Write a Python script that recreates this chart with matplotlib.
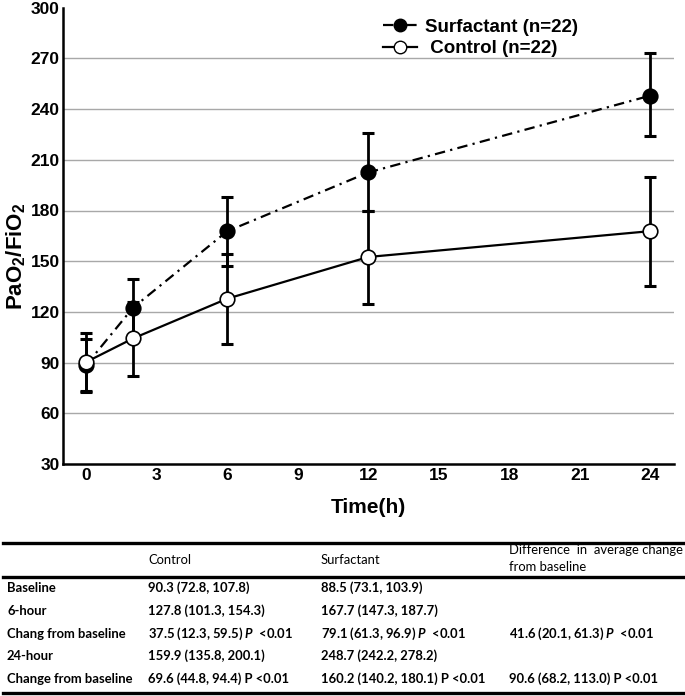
import matplotlib
matplotlib.use("Agg")
import matplotlib.pyplot as plt
from matplotlib.lines import Line2D

plt.rcParams['mathtext.fontset'] = 'custom'
plt.rcParams['mathtext.rm'] = 'Liberation Sans:bold'
plt.rcParams['mathtext.it'] = 'Lato:italic:bold'
plt.rcParams['mathtext.bf'] = 'Liberation Sans:bold'
plt.rcParams['lines.scale_dashes'] = False

# ---------------- data ----------------
times = [0, 2, 6, 12, 24]
surf = [88.5, 122.5, 167.7, 202.5, 248.0]
surf_lo = [73.1, 105.5, 147.3, 180.0, 224.0]
surf_hi = [103.9, 139.5, 187.7, 226.0, 273.0]
ctrl = [90.3, 104.3, 127.8, 152.5, 167.8]
ctrl_lo = [72.8, 82.0, 101.3, 124.5, 135.5]
ctrl_hi = [107.8, 126.0, 154.3, 180.0, 199.8]

xticks = [0, 3, 6, 9, 12, 15, 18, 21, 24]
yticks = [30, 60, 90, 120, 150, 180, 210, 240, 270, 300]

surf_label = "Surfactant (n=22)"
ctrl_label = " Control (n=22)"

table_header = ["", "Control", "Surfactant",
                "Difference  in  average change\nfrom baseline"]
row_labels = ["Baseline", "6-hour", "Chang from baseline", "24-hour", "Change from baseline"]
col_control = ["90.3 (72.8, 107.8)", "127.8 (101.3, 154.3)",
               r"37.5 (12.3, 59.5) $\mathit{P}$  <0.01",
               "159.9 (135.8, 200.1)", "69.6 (44.8, 94.4) P <0.01"]
col_surf = ["88.5 (73.1, 103.9)", "167.7 (147.3, 187.7)",
            r"79.1 (61.3, 96.9) $\mathit{P}$  <0.01",
            "248.7 (242.2, 278.2)", "160.2 (140.2, 180.1) P <0.01"]
col_diff = ["", "", r"41.6 (20.1, 61.3) $\mathit{P}$  <0.01",
            "", "90.6 (68.2, 113.0) P <0.01"]

# ---------------- figure ----------------
W, H = 685, 696
fig = plt.figure(figsize=(W / 100, H / 100), dpi=100)
ax = fig.add_axes([62.5 / W, (H - 464) / H, (674 - 62.5) / W, (464 - 7.7) / H])

tick_font = dict(family='Liberation Sans', weight='bold', size=12.5)

surf_err = [[s - l for s, l in zip(surf, surf_lo)], [h - s for s, h in zip(surf, surf_hi)]]
ctrl_err = [[c - l for c, l in zip(ctrl, ctrl_lo)], [h - c for c, h in zip(ctrl, ctrl_hi)]]

ax.errorbar(times, surf, yerr=surf_err, fmt='none', ecolor='black', elinewidth=2.0,
            capsize=4.5, capthick=2.2, zorder=3)
ax.errorbar(times, ctrl, yerr=ctrl_err, fmt='none', ecolor='black', elinewidth=2.0,
            capsize=4.5, capthick=2.2, zorder=3)
ax.plot(times, surf, color='black', lw=1.6, dashes=[7.5, 3.8, 1.6, 3.8],
        marker='o', ms=10.5, mfc='black', mec='black', mew=1.2, zorder=4)
ax.plot(times, ctrl, color='black', lw=1.6, ls='-',
        marker='o', ms=10.5, mfc='white', mec='black', mew=1.2, zorder=5)

ax.set_xlim(-1.0, 25.0)
ax.set_ylim(30, 300)
ax.set_xticks(xticks)
ax.set_yticks(yticks)
ax.set_xticklabels([str(t) for t in xticks], fontdict=tick_font)
ax.set_yticklabels([str(t) for t in yticks], fontdict=tick_font)
ax.tick_params(axis='both', length=0)
ax.tick_params(axis='x', pad=3)
ax.tick_params(axis='y', pad=2)

ax.yaxis.grid(True, color='#a8a8a8', lw=1.0)
ax.get_ygridlines()[-1].set_visible(False)
ax.get_ygridlines()[0].set_visible(False)
ax.set_axisbelow(True)

for s in ['top', 'right']:
    ax.spines[s].set_visible(False)
for s in ['left', 'bottom']:
    ax.spines[s].set_linewidth(1.8)

ax.set_ylabel("PaO$_2$/FiO$_2$", family='Liberation Sans', weight='bold', size=16)
ax.yaxis.set_label_coords(-0.057, 0.455)
ax.set_xlabel("Time(h)", family='Liberation Sans', weight='bold', size=15)
ax.xaxis.set_label_coords(0.4996, -0.075)

h_s = Line2D([], [], color='black', lw=1.6, dashes=[7.5, 3.8, 1.6, 3.8],
             marker='o', ms=9, mfc='black', mec='black')
h_c = Line2D([], [], color='black', lw=1.6, ls='-',
             marker='o', ms=9, mfc='white', mec='black')
leg = ax.legend([h_s, h_c], [surf_label, ctrl_label], loc='upper left',
                bbox_to_anchor=(374 / W, 1 - 9 / H), bbox_transform=fig.transFigure,
                frameon=False, prop=dict(family='Liberation Sans', weight='bold', size=13.5),
                handlelength=1.8, handletextpad=0.4, labelspacing=0.25, borderpad=0)

# ---------------- table ----------------
def fx(px):
    return px / W

def fy(py):
    return 1 - py / H

tfont = 'Lato'
tsize = 9.4
for y in [542.5, 577, 693]:
    fig.add_artist(Line2D([fx(3), fx(684)], [fy(y), fy(y)], color='black', lw=2.4,
                          transform=fig.transFigure))

col_x = [7, 148, 321, 509]
fig.text(fx(col_x[1]), fy(560), table_header[1], family=tfont, size=tsize, va='center')
fig.text(fx(col_x[2]), fy(560), table_header[2], family=tfont, size=tsize, va='center')
fig.text(fx(col_x[3]), fy(558.5), table_header[3], family=tfont, size=tsize, va='center',
         linespacing=1.55)

row_y = [588, 611, 633.5, 656, 679]
for i, y in enumerate(row_y):
    for x, txt in zip(col_x, [row_labels[i], col_control[i], col_surf[i], col_diff[i]]):
        if txt:
            fig.text(fx(x), fy(y), txt, family=tfont, weight='bold', size=tsize, va='center')

fig.savefig("out.png", dpi=100)
